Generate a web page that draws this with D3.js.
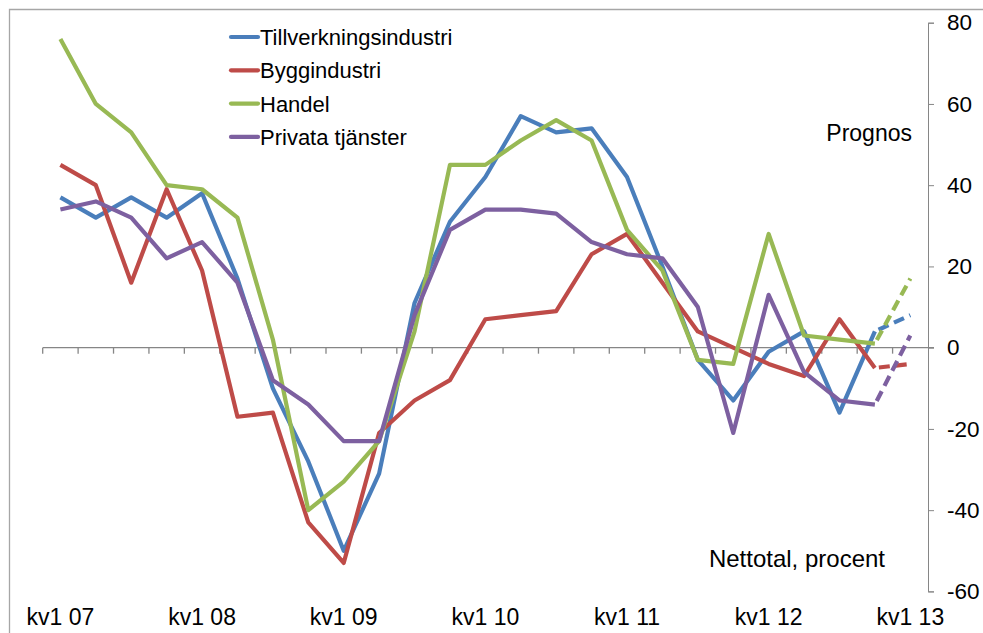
<!DOCTYPE html>
<html>
<head>
<meta charset="utf-8">
<script src="https://cdn.jsdelivr.net/npm/d3@7"></script>
<style>
  body { margin: 0; background: #fff; }
  text { font-family: "Liberation Sans", Arial, sans-serif; fill: #000; }
</style>
</head>
<body>
<div class="container"></div>
<script>
const WIDTH = 983
const HEIGHT = 633

const quarters = ["kv1 07", "kv2 07", "kv3 07", "kv4 07", "kv1 08", "kv2 08", "kv3 08", "kv4 08",
  "kv1 09", "kv2 09", "kv3 09", "kv4 09", "kv1 10", "kv2 10", "kv3 10", "kv4 10",
  "kv1 11", "kv2 11", "kv3 11", "kv4 11", "kv1 12", "kv2 12", "kv3 12", "kv4 12", "kv1 13"]
const tickLabels = ["kv1 07", "kv1 08", "kv1 09", "kv1 10", "kv1 11", "kv1 12", "kv1 13"]
const yTicks = [-60, -40, -20, 0, 20, 40, 60, 80]

const tillverkning = [37, 32, 37, 32, 38, 17, -10, -28, -50, -31, 11, 31, 42, 57, 53, 54, 42, 20, -3, -13, -1, 4, -16, 4, 8]
const bygg = [45, 40, 16, 39, 19, -17, -16, -43, -53, -21, -13, -8, 7, 8, 9, 23, 28, 16, 4, 0, -4, -7, 7, -5, -4]
const handel = [76, 60, 53, 40, 39, 32, 2, -40, -33, -23, 4, 45, 45, 51, 56, 51, 29, 19, -3, -4, 28, 3, 2, 1, 17]
const privata = [34, 36, 32, 22, 26, 16, -8, -14, -23, -23, 8, 29, 34, 34, 33, 26, 23, 22, 10, -21, 13, -6, -13, -14, 3]

const seriesNames = ["Tillverkningsindustri", "Byggindustri", "Handel", "Privata tjänster"]
const COLORS = ['#4a7ebb', '#be4b48', '#98b954', '#7d60a0']

const series = [tillverkning, bygg, handel, privata].map((values, i) => ({
  name: seriesNames[i], color: COLORS[i], values
}))

const svg = d3.select('.container')
  .append('svg')
  .attr('width', WIDTH)
  .attr('height', HEIGHT)

const x = d3.scaleBand().domain(quarters).range([42.7, 928]).padding(0)
const y = d3.scaleLinear().domain([-60, 80]).range([591.4, 22.7])
const cx = (q) => x(q) + x.bandwidth() / 2

// frame (cut off at right/bottom)
svg.append('path')
  .attr('d', `M9.5,${HEIGHT} V9.5 H${WIDTH}`)
  .attr('fill', 'none')
  .attr('stroke', '#a6a6a6')
  .attr('stroke-width', 1.3)

// right value axis, plain hyphen for negatives
const yAxis = svg.append('g')
  .attr('transform', 'translate(928,0)')
  .call(d3.axisRight(y).tickValues(yTicks).tickSize(6).tickPadding(13).tickFormat(d => String(d)))
yAxis.select('.domain').attr('stroke', '#868686')
yAxis.selectAll('.tick line').attr('stroke', '#868686')
yAxis.selectAll('.tick text').attr('font-size', 22.5).attr('fill', '#000')
  .attr('font-family', '"Liberation Sans", Arial, sans-serif')

// zero line with category ticks
svg.append('line')
  .attr('x1', 42.7).attr('x2', 934)
  .attr('y1', y(0)).attr('y2', y(0))
  .attr('stroke', '#868686').attr('stroke-width', 1.3)

svg.selectAll('.qtick')
  .data(quarters)
  .join('line')
  .attr('class', 'qtick')
  .attr('x1', d => x(d)).attr('x2', d => x(d))
  .attr('y1', y(0)).attr('y2', y(0) + 6)
  .attr('stroke', '#868686').attr('stroke-width', 1.3)

// category labels along the bottom
const xAxis = svg.append('g')
  .attr('transform', 'translate(0,603)')
  .call(d3.axisBottom(x).tickValues(tickLabels).tickSize(0).tickPadding(6))
xAxis.select('.domain').remove()
xAxis.selectAll('.tick text').attr('font-size', 23).attr('fill', '#000')
  .attr('font-family', '"Liberation Sans", Arial, sans-serif')

// lines: solid up to kv4 12, dashed prognosis to kv1 13
const line = d3.line()
  .x(d => cx(d.q))
  .y(d => y(d.v))

const last = quarters.length - 1
series.forEach(s => {
  const pts = s.values.map((v, i) => ({ q: quarters[i], v }))
  svg.append('path')
    .datum(pts.slice(0, last))
    .attr('d', line)
    .attr('fill', 'none')
    .attr('stroke', s.color)
    .attr('stroke-width', 4.2)
    .attr('stroke-linejoin', 'round')
  svg.append('path')
    .datum(pts.slice(last - 1))
    .attr('d', line)
    .attr('fill', 'none')
    .attr('stroke', s.color)
    .attr('stroke-width', 4.2)
    .attr('stroke-dasharray', '11,6')
    .attr('stroke-dashoffset', -4)
})

// legend
const legend = svg.append('g').attr('transform', 'translate(231,37)')
legend.selectAll('g')
  .data(series)
  .join('g')
  .attr('transform', (d, i) => `translate(0,${i * 33.3})`)
  .each(function (d) {
    const g = d3.select(this)
    g.append('line').attr('x1', 0).attr('x2', 27).attr('y1', 0).attr('y2', 0)
      .attr('stroke', d.color).attr('stroke-width', 4.2).attr('stroke-linecap', 'round')
    g.append('text').attr('x', 29).attr('y', 8).attr('font-size', 22).text(d.name)
  })

svg.append('text')
  .attr('x', 912).attr('y', 141)
  .attr('text-anchor', 'end')
  .attr('font-size', 23)
  .text('Prognos')

svg.append('text')
  .attr('x', 885).attr('y', 567)
  .attr('text-anchor', 'end')
  .attr('font-size', 24)
  .text('Nettotal, procent')
</script>
</body>
</html>
